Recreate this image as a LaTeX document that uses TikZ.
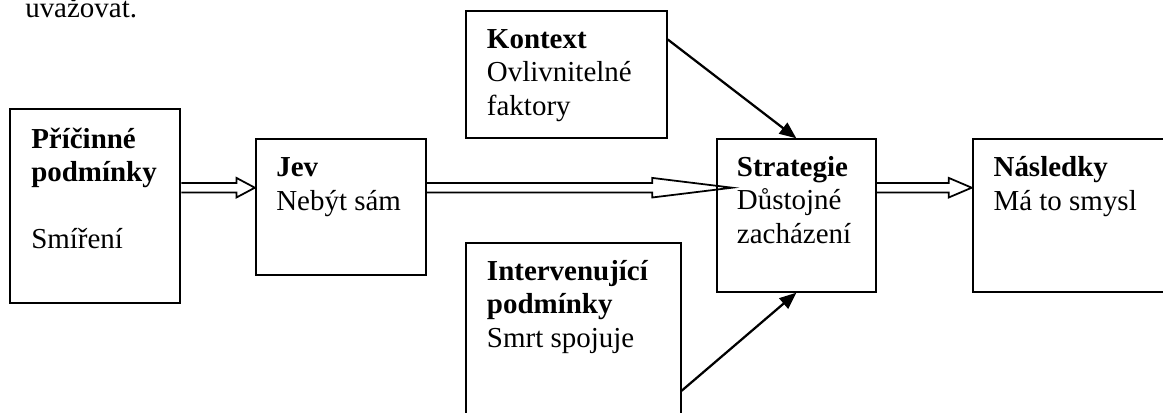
\documentclass[tikz,border=0pt]{standalone}
\usepackage{fontspec}
\setmainfont{Liberation Serif}
\usepackage{tikz}
\usetikzlibrary{arrows.meta, positioning, calc}

\begin{document}
\begin{tikzpicture}[
  font=\fontsize{20.6}{23.7}\selectfont,
  box/.style={
    draw=black,
    line width=1.4pt,
    minimum width=#1,
    inner sep=0pt
  },
  boxtext/.style={
    anchor=base west,
    align=left,
    inner sep=0pt
  },
  conn/.style={
    draw=black,
    line width=1.6pt,
    -{Triangle[length=0.42cm, width=0.34cm]}
  },
  hollow/.style={
    draw=black,
    line width=1.25pt,
    line join=miter
  }
]

\useasboundingbox (0,0) rectangle (29.075,-10.3);

% Text above the diagram
\node[boxtext] (prevline) at (0.625,-0.4325) {uvažovat.};

% Boxes
\node[box=4.2575cm, minimum height=4.85cm] (prici) at (2.379,-5.1575) {};
\node[box=4.25cm, minimum height=3.39cm] (jev) at (8.521,-5.179) {};
\node[box=5.0175cm, minimum height=3.1825cm] (kontext) at (14.159,-1.866) {};
\node[box=3.9825cm, minimum height=3.81cm] (strat) at (19.909,-5.3875) {};
\node[box=5.3075cm, minimum height=3.81cm] (nasl) at (26.971,-5.3875) {};
\node[box=5.3675cm, minimum height=4.675cm] (interv) at (14.334,-8.4125) {};

% Box texts (base = last line)
\node[boxtext] (pricitxt) at (0.775,-6.2075)
  {\textbf{Příčinné}\\ \textbf{podmínky}\\[0.833cm] Smíření};
\node[boxtext] (jevtxt) at (6.9,-5.25)
  {\textbf{Jev}\\ Nebýt sám};
\node[boxtext] (kontexttxt) at (12.1675,-2.875)
  {\textbf{Kontext}\\ Ovlivnitelné\\ faktory};
\node[boxtext] (strattxt) at (18.4175,-6.0825)
  {\textbf{Strategie}\\ Důstojné\\ zacházení};
\node[boxtext] (nasltxt) at (24.8325,-5.25)
  {\textbf{Následky}\\ Má to smysl};
\node[boxtext] (intervtxt) at (12.1675,-8.6825)
  {\textbf{Intervenující}\\ \textbf{podmínky}\\ Smrt spojuje};

% Level of the main flow
\coordinate (lvl) at (0,-4.6925);

% ---------------- Main flow ----------------
\draw[hollow] let \p1=(prici.east |- lvl), \p2=(jev.west |- lvl) in
  (\x1,\y1+0.1175cm) -- (\x2-0.46cm,\y1+0.1175cm) -- (\x2-0.46cm,\y1+0.245cm)
  -- (\x2,\y1) -- (\x2-0.46cm,\y1-0.245cm) -- (\x2-0.46cm,\y1-0.1175cm)
  -- (\x1,\y1-0.1175cm);

\draw[hollow] let \p1=(jev.east |- lvl), \p2=(strat.west |- lvl) in
  (\x1,\y1+0.1175cm) -- (\x2-1.59cm,\y1+0.1175cm) -- (\x2-1.59cm,\y1+0.245cm)
  -- (\x2+0.41cm,\y1) -- (\x2-1.59cm,\y1-0.245cm) -- (\x2-1.59cm,\y1-0.1175cm)
  -- (\x1,\y1-0.1175cm);

\draw[hollow] let \p1=(strat.east |- lvl), \p2=(nasl.west |- lvl) in
  (\x1,\y1+0.1175cm) -- (\x2-0.575cm,\y1+0.1175cm) -- (\x2-0.575cm,\y1+0.245cm)
  -- (\x2,\y1) -- (\x2-0.575cm,\y1-0.245cm) -- (\x2-0.575cm,\y1-0.1175cm)
  -- (\x1,\y1-0.1175cm);

% ---------------- Side influences ----------------
\draw[conn] ([yshift=0.88cm]kontext.east) -- (strat.north);
\draw[conn] ([yshift=-1.355cm]interv.east) -- (strat.south);

\end{tikzpicture}
\end{document}
